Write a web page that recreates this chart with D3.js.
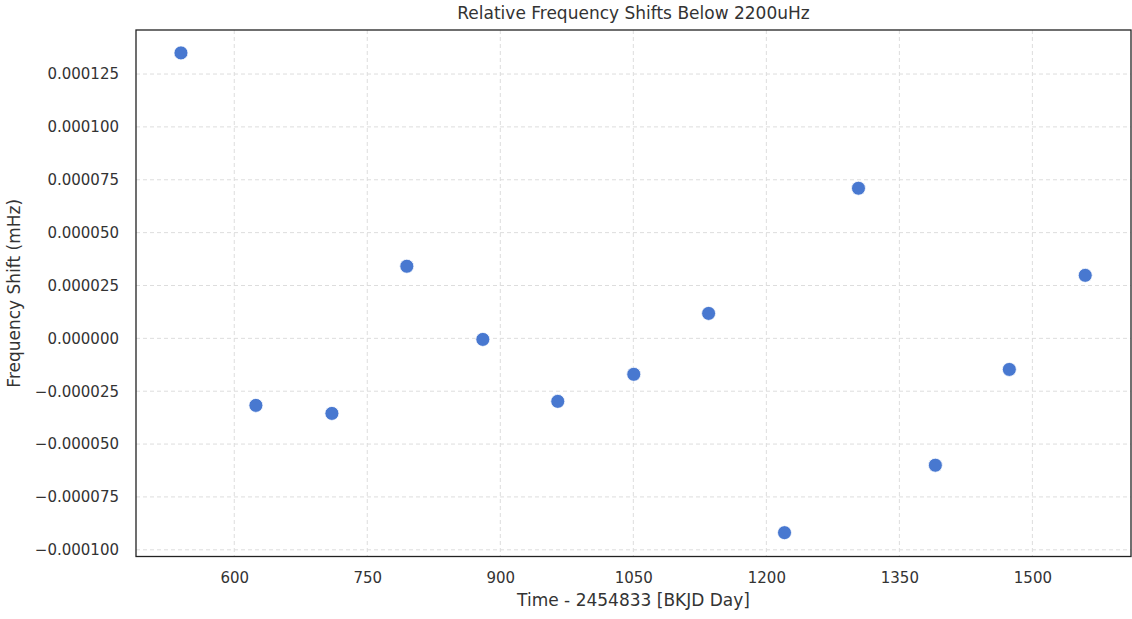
<!DOCTYPE html>
<html><head><meta charset="utf-8">
<script src="https://cdn.jsdelivr.net/npm/d3@7"></script>
<style>body{margin:0;background:#fff}svg{display:block}</style>
</head><body>
<svg id="c" width="1132" height="619"></svg>
<script>
const times = [539.9, 624.4, 710.1, 794.6, 880.3, 964.8, 1050.5, 1134.9, 1220.5, 1303.9, 1390.6, 1474.0, 1559.6];
const shifts = [0.000135, -0.0000317, -0.0000355, 0.0000341, -0.0000005, -0.0000298, -0.0000170, 0.0000118, -0.0000919, 0.0000710, -0.0000600, -0.0000147, 0.0000298];
const xTicks = [600, 750, 900, 1050, 1200, 1350, 1500];
const yTicks = [-0.0001, -0.000075, -0.00005, -0.000025, 0, 0.000025, 0.00005, 0.000075, 0.0001, 0.000125];
const titleText = "Relative Frequency Shifts Below 2200uHz";
const xLabel = "Time - 2454833 [BKJD Day]";
const yLabel = "Frequency Shift (mHz)";

const svg = d3.select("#c");
const L = 136, R = 1131, T = 30, B = 556.5;
const x = d3.scaleLinear().domain([489.2, 1611.2]).range([L, R]);
const y = d3.scaleLinear().domain([-0.00010317, 0.00014583]).range([B, T]);
const font = "DejaVu Sans, sans-serif";

// grid
svg.append("g").selectAll("line").data(xTicks).join("line")
  .attr("x1", d => x(d)).attr("x2", d => x(d)).attr("y1", T).attr("y2", B)
  .attr("stroke", "#dddddd").attr("stroke-width", 1).attr("stroke-dasharray", "4,3");
svg.append("g").selectAll("line").data(yTicks).join("line")
  .attr("y1", d => y(d)).attr("y2", d => y(d)).attr("x1", L).attr("x2", R)
  .attr("stroke", "#dddddd").attr("stroke-width", 1).attr("stroke-dasharray", "4,3");

// axes (labels only)
const xAxis = d3.axisBottom(x).tickValues(xTicks).tickSize(0).tickPadding(15.5).tickFormat(d3.format("d"));
const gx = svg.append("g").attr("transform", `translate(0,${B})`).call(xAxis);
const yAxis = d3.axisLeft(y).tickValues(yTicks).tickSize(0).tickPadding(17)
  .tickFormat(d => (d < 0 ? "\u2212" : "") + Math.abs(d).toFixed(6));
const gy = svg.append("g").attr("transform", `translate(${L},0)`).call(yAxis);
[gx, gy].forEach(g => {
  g.select(".domain").remove();
  g.selectAll("text").attr("font-family", font).attr("font-size", 15).attr("fill", "#333");
});

// points
svg.append("g").selectAll("circle").data(times.map((t, i) => [t, shifts[i]])).join("circle")
  .attr("cx", d => x(d[0])).attr("cy", d => y(d[1])).attr("r", 7)
  .attr("fill", "#4878d0").attr("stroke", "#fff").attr("stroke-width", 0.8);

// frame
svg.append("rect").attr("x", L).attr("y", T).attr("width", R - L).attr("height", B - T)
  .attr("fill", "none").attr("stroke", "#222").attr("stroke-width", 1.3);

svg.append("text").attr("x", (L + R) / 2).attr("y", 19).attr("text-anchor", "middle")
  .attr("font-family", font).attr("font-size", 17).attr("fill", "#333").text(titleText);
svg.append("text").attr("x", (L + R) / 2).attr("y", 606).attr("text-anchor", "middle")
  .attr("font-family", font).attr("font-size", 17).attr("fill", "#333").text(xLabel);
svg.append("text").attr("transform", `translate(20,${(T + B) / 2}) rotate(-90)`).attr("text-anchor", "middle")
  .attr("font-family", font).attr("font-size", 17).attr("fill", "#333").text(yLabel);
</script>
</body></html>
